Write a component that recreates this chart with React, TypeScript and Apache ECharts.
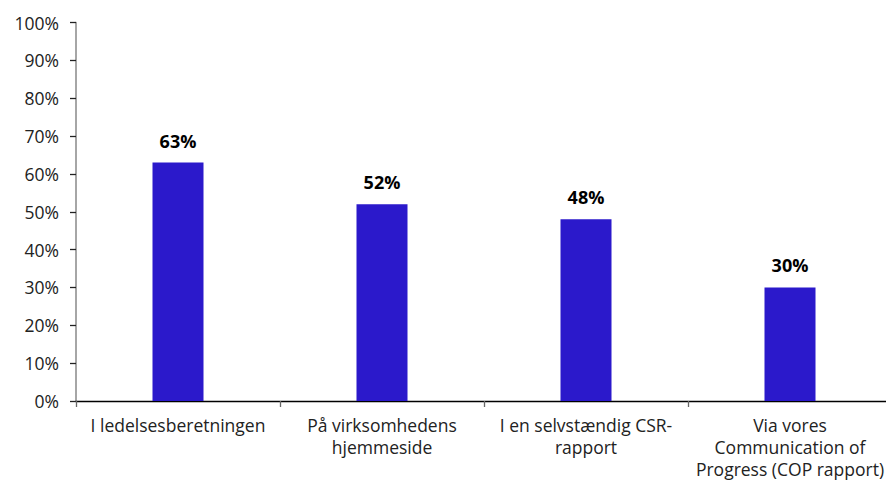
import React, { useEffect, useRef } from "react";
import * as echarts from "echarts";

const categories = [
  "I ledelsesberetningen",
  "På virksomhedens\nhjemmeside",
  "I en selvstændig CSR-\nrapport",
  "Via vores\nCommunication of\nProgress (COP rapport)",
];
const values = [63, 52, 48, 30];
const yTicks = { min: 0, max: 100, interval: 10 };

export default function App() {
  const ref = useRef<HTMLDivElement>(null);
  useEffect(() => {
    if (!ref.current) return;
    const chart = echarts.init(ref.current, null, { renderer: "svg" });
    const font = "'Open Sans', 'Liberation Sans', Arial, sans-serif";
    chart.setOption({
      animation: false,
      textStyle: { fontFamily: font },
      grid: { left: 76, right: 8, top: 22.5, bottom: 78.5, containLabel: false },
      xAxis: {
        type: "category",
        data: categories,
        axisLine: { show: true, lineStyle: { color: "#000", width: 1.3 } },
        axisTick: { show: true, length: 6, lineStyle: { color: "#666", width: 1.3 } },
        axisLabel: {
          interval: 0,
          color: "#222",
          fontSize: 17.5,
          fontFamily: font,
          lineHeight: 22,
          margin: 13,
          align: "center",
        },
      },
      yAxis: {
        type: "value",
        min: yTicks.min,
        max: yTicks.max,
        interval: yTicks.interval,
        splitLine: { show: false },
        axisLine: { show: true, lineStyle: { color: "#888", width: 1.5 } },
        axisTick: { show: true, length: 6, lineStyle: { color: "#222", width: 1.3 } },
        axisLabel: {
          color: "#222",
          fontSize: 17.5,
          fontFamily: font,
          margin: 17,
          formatter: (v: number) => `${v}%`,
        },
      },
      series: [
        {
          type: "bar",
          data: values,
          barWidth: "25%",
          itemStyle: { color: "#2B19CB" },
          label: {
            show: true,
            position: "top",
            distance: 13,
            formatter: (p: any) => `${p.value}%`,
            fontWeight: "bold",
            fontSize: 18,
            color: "#000",
            fontFamily: font,
          },
        },
      ],
    });
    return () => chart.dispose();
  }, []);
  return (
    <div style={{ position: "fixed", left: 0, top: 0, width: 886, height: 480, overflow: "hidden", background: "#fff" }}>
      <div ref={ref} style={{ width: 900, height: 480 }} />
    </div>
  );
}
